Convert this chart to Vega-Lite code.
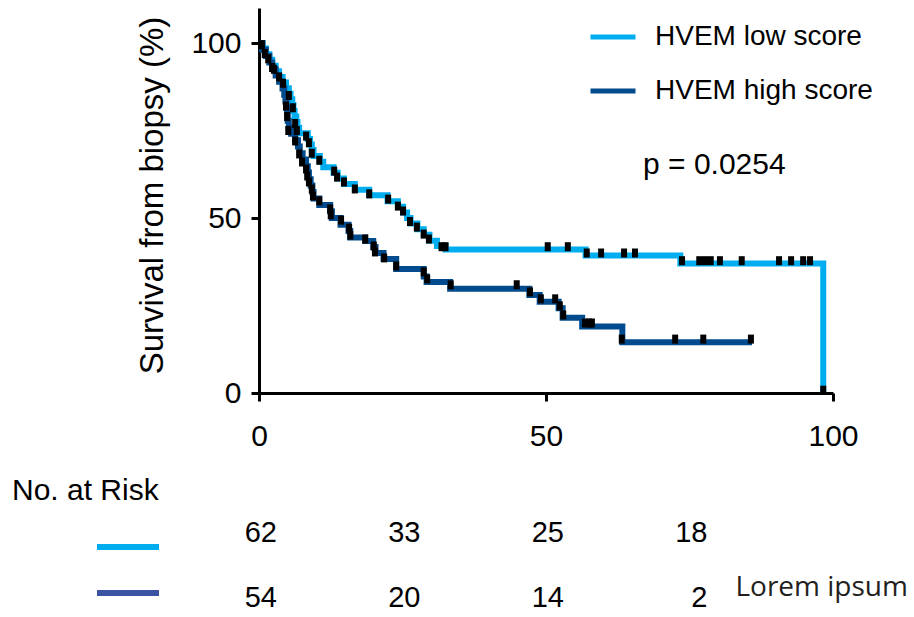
{
  "$schema": "https://vega.github.io/schema/vega-lite/v6.json",
  "autosize": {"type": "pad"},
  "padding": {"left": 12, "top": 8, "right": 5, "bottom": 5},
  "background": "white",
  "config": {
    "font": "Liberation Sans",
    "view": {"stroke": null},
    "axis": {"grid": false, "domainColor": "black", "tickColor": "black", "labelColor": "black", "titleColor": "black"},
    "legend": {"labelFont": "Liberation Sans", "labelColor": "black"}
  },
  "datasets": {
    "curves": [
      {"group": "HVEM low score", "t": 0, "s": 100},
      {"group": "HVEM low score", "t": 0.6, "s": 98.4},
      {"group": "HVEM low score", "t": 1.2, "s": 96.8},
      {"group": "HVEM low score", "t": 1.8, "s": 95.2},
      {"group": "HVEM low score", "t": 2.3, "s": 93.5},
      {"group": "HVEM low score", "t": 2.9, "s": 91.9},
      {"group": "HVEM low score", "t": 3.5, "s": 90.3},
      {"group": "HVEM low score", "t": 4.1, "s": 88.7},
      {"group": "HVEM low score", "t": 4.7, "s": 87.1},
      {"group": "HVEM low score", "t": 5.2, "s": 85.5},
      {"group": "HVEM low score", "t": 5.5, "s": 83.9},
      {"group": "HVEM low score", "t": 5.8, "s": 82.3},
      {"group": "HVEM low score", "t": 6.0, "s": 80.6},
      {"group": "HVEM low score", "t": 6.2, "s": 79.0},
      {"group": "HVEM low score", "t": 6.5, "s": 77.4},
      {"group": "HVEM low score", "t": 6.7, "s": 75.8},
      {"group": "HVEM low score", "t": 7.0, "s": 74.2},
      {"group": "HVEM low score", "t": 8.5, "s": 72.6},
      {"group": "HVEM low score", "t": 8.9, "s": 71.0},
      {"group": "HVEM low score", "t": 9.2, "s": 69.4},
      {"group": "HVEM low score", "t": 9.5, "s": 67.7},
      {"group": "HVEM low score", "t": 10.6, "s": 66.1},
      {"group": "HVEM low score", "t": 11.2, "s": 64.5},
      {"group": "HVEM low score", "t": 13.0, "s": 62.9},
      {"group": "HVEM low score", "t": 13.7, "s": 61.3},
      {"group": "HVEM low score", "t": 14.8, "s": 59.7},
      {"group": "HVEM low score", "t": 16.7, "s": 58.1},
      {"group": "HVEM low score", "t": 19.2, "s": 56.5},
      {"group": "HVEM low score", "t": 22.4, "s": 54.8},
      {"group": "HVEM low score", "t": 24.2, "s": 53.2},
      {"group": "HVEM low score", "t": 25.1, "s": 51.6},
      {"group": "HVEM low score", "t": 25.8, "s": 50.0},
      {"group": "HVEM low score", "t": 26.4, "s": 48.4},
      {"group": "HVEM low score", "t": 27.6, "s": 46.8},
      {"group": "HVEM low score", "t": 28.7, "s": 45.2},
      {"group": "HVEM low score", "t": 29.7, "s": 43.5},
      {"group": "HVEM low score", "t": 31.0, "s": 42.0},
      {"group": "HVEM low score", "t": 32.5, "s": 41.0},
      {"group": "HVEM low score", "t": 56.9, "s": 39.3},
      {"group": "HVEM low score", "t": 73.4, "s": 37.0},
      {"group": "HVEM low score", "t": 98.3, "s": 0},
      {"group": "HVEM high score", "t": 0, "s": 100},
      {"group": "HVEM high score", "t": 0.6, "s": 98.1},
      {"group": "HVEM high score", "t": 1.2, "s": 96.3},
      {"group": "HVEM high score", "t": 1.8, "s": 94.4},
      {"group": "HVEM high score", "t": 2.3, "s": 92.6},
      {"group": "HVEM high score", "t": 2.9, "s": 90.7},
      {"group": "HVEM high score", "t": 3.5, "s": 88.9},
      {"group": "HVEM high score", "t": 4.1, "s": 87.0},
      {"group": "HVEM high score", "t": 4.4, "s": 85.2},
      {"group": "HVEM high score", "t": 4.6, "s": 83.3},
      {"group": "HVEM high score", "t": 4.8, "s": 81.5},
      {"group": "HVEM high score", "t": 4.9, "s": 79.6},
      {"group": "HVEM high score", "t": 5.0, "s": 77.8},
      {"group": "HVEM high score", "t": 5.2, "s": 75.9},
      {"group": "HVEM high score", "t": 5.6, "s": 74.1},
      {"group": "HVEM high score", "t": 6.3, "s": 72.2},
      {"group": "HVEM high score", "t": 6.8, "s": 70.4},
      {"group": "HVEM high score", "t": 7.1, "s": 68.5},
      {"group": "HVEM high score", "t": 7.6, "s": 66.7},
      {"group": "HVEM high score", "t": 8.2, "s": 64.8},
      {"group": "HVEM high score", "t": 8.5, "s": 63.0},
      {"group": "HVEM high score", "t": 8.7, "s": 61.1},
      {"group": "HVEM high score", "t": 9.0, "s": 59.3},
      {"group": "HVEM high score", "t": 9.3, "s": 57.4},
      {"group": "HVEM high score", "t": 9.5, "s": 55.6},
      {"group": "HVEM high score", "t": 10.5, "s": 53.7},
      {"group": "HVEM high score", "t": 12.4, "s": 51.9},
      {"group": "HVEM high score", "t": 12.7, "s": 50.0},
      {"group": "HVEM high score", "t": 14.2, "s": 48.1},
      {"group": "HVEM high score", "t": 15.6, "s": 46.3},
      {"group": "HVEM high score", "t": 15.9, "s": 44.4},
      {"group": "HVEM high score", "t": 18.5, "s": 43.4},
      {"group": "HVEM high score", "t": 19.9, "s": 41.7},
      {"group": "HVEM high score", "t": 20.3, "s": 40.0},
      {"group": "HVEM high score", "t": 21.7, "s": 38.3},
      {"group": "HVEM high score", "t": 23.9, "s": 35.4},
      {"group": "HVEM high score", "t": 28.7, "s": 33.3},
      {"group": "HVEM high score", "t": 29.2, "s": 31.7},
      {"group": "HVEM high score", "t": 33.3, "s": 29.8},
      {"group": "HVEM high score", "t": 47.1, "s": 28.0},
      {"group": "HVEM high score", "t": 48.9, "s": 26.1},
      {"group": "HVEM high score", "t": 52.2, "s": 24.2},
      {"group": "HVEM high score", "t": 52.9, "s": 21.5},
      {"group": "HVEM high score", "t": 56.3, "s": 19.0},
      {"group": "HVEM high score", "t": 63.3, "s": 14.5},
      {"group": "HVEM high score", "t": 85.9, "s": 14.5}
    ],
    "censor": [
      {"t": 0.5, "s": 99.5}, {"t": 1.6, "s": 95.5}, {"t": 2.6, "s": 92.5}, {"t": 3.5, "s": 90.3},
      {"t": 4.2, "s": 88.5}, {"t": 5.2, "s": 85.0}, {"t": 5.9, "s": 81.5}, {"t": 6.3, "s": 77.0},
      {"t": 6.6, "s": 75.0}, {"t": 8.2, "s": 73.4}, {"t": 8.7, "s": 71.5}, {"t": 9.2, "s": 68.5},
      {"t": 10.5, "s": 66.5}, {"t": 13.1, "s": 63.4}, {"t": 13.6, "s": 61.7}, {"t": 14.8, "s": 60.3},
      {"t": 16.7, "s": 58.3}, {"t": 19.2, "s": 56.9}, {"t": 22.5, "s": 55.4}, {"t": 24.2, "s": 53.4},
      {"t": 25.1, "s": 52.0}, {"t": 26.3, "s": 49.0}, {"t": 27.5, "s": 47.4}, {"t": 28.7, "s": 45.4},
      {"t": 29.6, "s": 44.0}, {"t": 31.8, "s": 41.8}, {"t": 32.5, "s": 41.8}, {"t": 50.3, "s": 41.8},
      {"t": 53.8, "s": 41.8}, {"t": 57.1, "s": 40.0}, {"t": 59.6, "s": 40.0}, {"t": 63.6, "s": 40.0},
      {"t": 65.5, "s": 40.0}, {"t": 73.7, "s": 37.8}, {"t": 76.7, "s": 37.8}, {"t": 77.7, "s": 37.8},
      {"t": 78.7, "s": 37.8}, {"t": 80.3, "s": 37.8}, {"t": 84.1, "s": 37.8}, {"t": 90.6, "s": 37.8},
      {"t": 92.7, "s": 37.8}, {"t": 94.8, "s": 37.8}, {"t": 96.0, "s": 37.8}, {"t": 98.3, "s": 0.8},
      {"t": 1.0, "s": 97.0}, {"t": 2.3, "s": 93.0}, {"t": 4.7, "s": 82.0}, {"t": 4.9, "s": 79.0},
      {"t": 5.1, "s": 75.0}, {"t": 6.3, "s": 72.0}, {"t": 7.0, "s": 68.3}, {"t": 7.5, "s": 66.0},
      {"t": 8.2, "s": 64.0}, {"t": 8.4, "s": 62.0}, {"t": 8.7, "s": 60.3}, {"t": 9.2, "s": 58.3},
      {"t": 9.4, "s": 56.3}, {"t": 10.5, "s": 54.9}, {"t": 12.4, "s": 52.6}, {"t": 12.5, "s": 50.9},
      {"t": 14.3, "s": 49.4}, {"t": 15.7, "s": 47.1}, {"t": 15.9, "s": 45.1}, {"t": 18.5, "s": 44.0},
      {"t": 20.0, "s": 42.0}, {"t": 20.2, "s": 40.3}, {"t": 21.8, "s": 38.6}, {"t": 23.9, "s": 36.3},
      {"t": 28.7, "s": 34.6}, {"t": 29.3, "s": 32.6}, {"t": 33.4, "s": 30.9}, {"t": 44.9, "s": 30.9},
      {"t": 47.2, "s": 28.9}, {"t": 49.1, "s": 26.9}, {"t": 51.6, "s": 26.9}, {"t": 52.4, "s": 24.9},
      {"t": 53.0, "s": 22.3}, {"t": 56.8, "s": 20.0}, {"t": 57.5, "s": 20.0}, {"t": 58.0, "s": 20.0},
      {"t": 63.2, "s": 15.4}, {"t": 72.5, "s": 15.4}, {"t": 77.4, "s": 15.4}, {"t": 85.7, "s": 15.4}
    ],
    "risk": [
      {"group": "low", "t": 0, "n": 62}, {"group": "low", "t": 25, "n": 33},
      {"group": "low", "t": 50, "n": 25}, {"group": "low", "t": 75, "n": 18},
      {"group": "high", "t": 0, "n": 54}, {"group": "high", "t": 25, "n": 20},
      {"group": "high", "t": 50, "n": 14}, {"group": "high", "t": 75, "n": 2}
    ],
    "pvalue": [{"label": "p = 0.0254", "t": 66.9, "s": 62.6}],
    "note": [{"label": "Lorem ipsum", "t": 83, "group": "high"}]
  },
  "spacing": 25,
  "resolve": {"scale": {"color": "independent"}, "legend": {"color": "independent"}},
  "vconcat": [
    {
      "width": 574,
      "height": 385,
      "layer": [
        {
          "data": {"name": "curves"},
          "mark": {"type": "line", "interpolate": "step-after", "strokeWidth": 6},
          "encoding": {
            "x": {"field": "t", "type": "quantitative", "scale": {"domain": [0, 100], "nice": false},
              "axis": {"values": [0, 50, 100], "title": null, "tickSize": 8, "tickWidth": 3, "domainWidth": 3, "labelFontSize": 30, "labelPadding": 20, "labelFlush": false}},
            "y": {"field": "s", "type": "quantitative", "scale": {"domain": [0, 110], "nice": false},
              "axis": {"values": [0, 50, 100], "title": "Survival from biopsy (%)", "titleFontSize": 33, "titleFontWeight": "normal", "titlePadding": 21, "titleY": 187, "tickSize": 8, "tickWidth": 3, "domainWidth": 3, "labelFontSize": 30, "labelPadding": 10}},
            "color": {"field": "group", "type": "nominal",
              "scale": {"domain": ["HVEM low score", "HVEM high score"], "range": ["#00AEEF", "#004B8D"]},
              "legend": {"orient": "none", "legendX": 329, "legendY": 4, "title": null, "padding": 0, "symbolType": "stroke", "symbolSize": 2025, "symbolStrokeWidth": 5, "labelFontSize": 28, "labelOffset": 17, "labelLimit": 400, "rowPadding": 15}}
          }
        },
        {
          "data": {"name": "censor"},
          "mark": {"type": "tick", "orient": "vertical", "color": "black", "thickness": 6, "size": 9, "opacity": 1},
          "encoding": {
            "x": {"field": "t", "type": "quantitative"},
            "y": {"field": "s", "type": "quantitative"}
          }
        },
        {
          "data": {"name": "pvalue"},
          "mark": {"type": "text", "align": "left", "baseline": "alphabetic", "fontSize": 30, "color": "black"},
          "encoding": {
            "x": {"field": "t", "type": "quantitative"},
            "y": {"field": "s", "type": "quantitative"},
            "text": {"field": "label", "type": "nominal"}
          }
        }
      ]
    },
    {
      "width": 574,
      "height": 130,
      "title": {"text": "No. at Risk", "anchor": "start", "frame": "group", "dx": -247, "fontSize": 30, "fontWeight": "normal", "color": "black", "baseline": "alphabetic", "offset": -30},
      "layer": [
        {
          "data": {"name": "risk"},
          "mark": {"type": "text", "align": "right", "dx": 18, "baseline": "middle", "fontSize": 29, "color": "black"},
          "encoding": {
            "x": {"field": "t", "type": "quantitative", "scale": {"domain": [0, 100], "nice": false}, "axis": null},
            "y": {"field": "group", "type": "nominal", "scale": {"domain": ["low", "high"]}, "axis": null},
            "text": {"field": "n", "type": "quantitative"}
          }
        },
        {
          "data": {"name": "risk"},
          "mark": {"type": "point", "opacity": 0},
          "encoding": {
            "x": {"field": "t", "type": "quantitative"},
            "y": {"field": "group", "type": "nominal"},
            "color": {"field": "group", "type": "nominal",
              "scale": {"domain": ["low", "high"], "range": ["#00AEEF", "#3B55A4"]},
              "legend": {"orient": "none", "legendX": -165, "legendY": 13, "title": null, "padding": 0, "symbolType": "stroke", "symbolSize": 3844, "symbolStrokeWidth": 6, "symbolOpacity": 1, "labelExpr": "''", "labelFontSize": 1, "rowPadding": -4}}
          }
        },
        {
          "data": {"name": "note"},
          "mark": {"type": "text", "align": "left", "baseline": "middle", "font": "Open Sans", "fontSize": 28, "color": "#231F20", "dy": -10},
          "encoding": {
            "x": {"field": "t", "type": "quantitative"},
            "y": {"field": "group", "type": "nominal"},
            "text": {"field": "label", "type": "nominal"}
          }
        }
      ]
    }
  ]
}
